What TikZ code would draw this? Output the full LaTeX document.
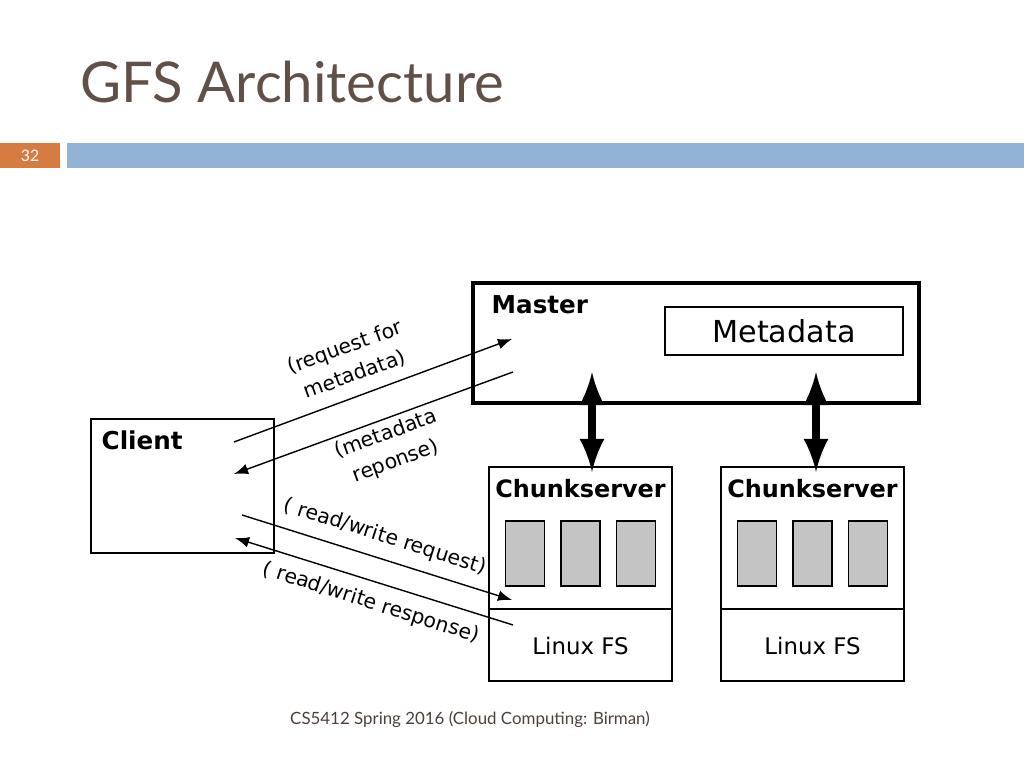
\documentclass[tikz,border=0pt]{standalone}
\usepackage{fontspec}
\setmainfont{DejaVu Sans}
\newfontfamily\slidefont{Lato}
\usetikzlibrary{positioning,arrows}
\definecolor{titlegray}{RGB}{96,80,72}
\definecolor{barblue}{RGB}{146,179,211}
\definecolor{barorange}{RGB}{214,124,66}
\definecolor{chunkgray}{RGB}{196,196,196}
\tikzset{
  box/.style={draw,line width=0.6pt,inner sep=0pt},
  chunk/.style={draw,fill=chunkgray,line width=0.5pt,minimum width=0.39cm,minimum height=0.65cm,inner sep=0pt},
  lbl/.style={font=\fontsize{5.8}{8.2}\selectfont,align=center,inner sep=0pt},
  msg/.style={line width=0.4pt,-latex},
  link/.style={line width=2.2pt,latex-latex}
}
\begin{document}
\begin{tikzpicture}[x=0.01cm,y=-0.01cm]
  \useasboundingbox (0,0) rectangle (1024,768);
%  \draw[help lines] (0,0) grid (1024,768);

  % title and slide bar
  \node[anchor=base west,inner sep=0pt,text=titlegray,font=\slidefont\fontsize{16}{18}\selectfont] (title) at (80,103) {GFS Architecture};
  \fill[barorange] (0,143) rectangle (60,168);
  \node[text=white,font=\slidefont\fontsize{4.5}{5}\selectfont] (page) at (30,155.5) {32};
  \fill[barblue] (67,143) rectangle (1024,168);

  % master
  \draw[line width=1.3pt] (473,283) rectangle (919,403);
  \node[anchor=north west,inner sep=0pt,font=\bfseries\fontsize{7}{9}\selectfont] (master) at (491,295) {Master};
  \node[box,minimum width=2.38cm,minimum height=0.48cm,font=\fontsize{8.6}{10}\selectfont] (meta) at (784,331) {Metadata};

  % client
  \draw[line width=0.6pt] (91,419) rectangle (274,553);
  \node[anchor=north west,inner sep=0pt,font=\bfseries\fontsize{7}{9}\selectfont] (client) at (101,430) {Client};

  % chunkservers
  \foreach \n/\x in {one/489,two/721}{
    \draw[line width=0.6pt] (\x,467) rectangle ++(183,214);
    \draw[line width=0.6pt] (\x,609) -- ++(183,0);
    \node[font=\bfseries\fontsize{6.8}{9}\selectfont] (cs\n) at (\x+91.5,489) {Chunkserver};
    \node[font=\fontsize{6.5}{8}\selectfont] (fs\n) at (\x+91.5,646) {Linux FS};
    \foreach \i/\dx in {a/36,b/91.5,c/147}
      \node[chunk] (c\n\i) at (\x+\dx,553.5) {};
  }
  \coordinate (mtop) at (592,372);  \coordinate (mbot) at (592,472);
  \coordinate (ntop) at (816,372);  \coordinate (nbot) at (816,472);
  \draw[link] (mtop) -- (mbot);
  \draw[link] (ntop) -- (nbot);

  % messages
  \coordinate (req0) at (234,442); \coordinate (req1) at (512,339);
  \coordinate (rsp0) at (513,372); \coordinate (rsp1) at (234,474);
  \coordinate (rw0) at (242,515);  \coordinate (rw1) at (512,600);
  \coordinate (rr0) at (513,625);  \coordinate (rr1) at (235,538);
  \draw[msg] (req0) -- (req1);
  \draw[msg] (rsp0) -- (rsp1);
  \draw[msg] (rw0) -- (rw1);
  \draw[msg] (rr0) -- (rr1);

  \node[lbl,rotate=20] (lreq) at (350,361) {(request for\\metadata)};
  \node[lbl,rotate=20] (lrsp) at (391,448) {(metadata\\reponse)};
  \node[lbl,rotate=-17.5] (lrw) at (385,537) {( read/write request)};
  \node[lbl,rotate=-17.5] (lrr) at (371,603) {( read/write response)};

  % footer
  \node[font=\slidefont\fontsize{4.8}{6}\selectfont,text=titlegray!80!black] (foot) at (470,720) {CS5412 Spring 2016 (Cloud Computing: Birman)};
\end{tikzpicture}
\end{document}
